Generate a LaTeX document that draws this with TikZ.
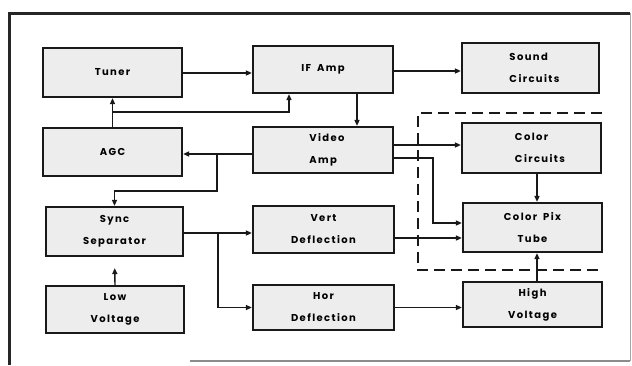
\documentclass[tikz,border=0pt]{standalone}
\usepackage{fontspec}
\newfontfamily\lblfont[LetterSpace=14]{Poppins}
\usetikzlibrary{arrows.meta}
\begin{document}
\begin{tikzpicture}[x=1pt,y=-1pt,
  blk/.style={draw=black!90, line width=2.2pt, fill=black!7, inner sep=0pt,
    align=center, font=\lblfont\bfseries\fontsize{10}{22}\selectfont},
  lft/.style={align=left},
  arr/.style={line width=1.4pt, draw=black!90, -{Triangle[length=6pt,width=5pt]}},
  dsh/.style={line width=1.6pt, draw=black!90, dash pattern=on 11pt off 6pt}]
\useasboundingbox (0,0) rectangle (632,365);
% frame
\draw[line width=3pt, black!85] (9,365) -- (9,13) -- (630,13);
\draw[line width=0.8pt, black!35] (630,13) -- (630,361);
\draw[line width=1.2pt, black!45] (190,361) -- (630,361);
% boxes
\node[blk, minimum width=139, minimum height=49] (tuner) at (112.5,72.5) {Tuner};
\node[blk, minimum width=140, minimum height=47] (if) at (323,69.5) {IF\hspace{0.6em}Amp};
\node[blk, minimum width=137, minimum height=50] (sound) at (530.5,68) {};
\node[blk, lft, draw=none, fill=none, anchor=center] (soundtxt) at (534.5,68) {Sound\\Circuits};
\node[blk, minimum width=139, minimum height=48] (agc) at (112.5,152) {AGC};
\node[blk, minimum width=140, minimum height=46] (video) at (323,150) {};
\node[blk, lft, draw=none, fill=none] (videotxt) at (327,150) {Video\\Amp};
\node[blk, minimum width=139, minimum height=50] (cc) at (531.5,148) {};
\node[blk, lft, draw=none, fill=none] (cctxt) at (540,148) {Color\\Circuits};
\node[blk, minimum width=137, minimum height=49] (sync) at (114.5,231.5) {Sync\\Separator};
\node[blk, minimum width=138, minimum height=47] (low) at (115,309.5) {Low\\Voltage};
\node[blk, minimum width=141, minimum height=47] (vert) at (323.5,229.5) {Vert\\Deflection};
\node[blk, minimum width=141, minimum height=45] (hor) at (323.5,307.5) {Hor\\Deflection};
\node[blk, minimum width=139, minimum height=49] (pix) at (532.5,227.5) {Color\hspace{0.6em}Pix\\Tube};
\node[blk, minimum width=139, minimum height=45] (high) at (532.5,304.5) {High\\Voltage};
% dashed enclosure
\draw[dsh] (602,113) -- (418,113) -- (418,270) -- (602,270);
% connectors
\coordinate (j1) at (113,112);
\coordinate (j2) at (217,154);
\coordinate (j3) at (217,191);
\coordinate (j4) at (218,233);
\coordinate (k) at (433,223);
\draw[arr] ([yshift=-0.5pt]tuner.east) -- ([yshift=-0.5pt]tuner.east -| if.west);
\draw[arr] (agc.north) -- (tuner.south);
\draw[arr] (j1) -| ([xshift=-34pt]if.south);
\draw[arr] ([yshift=-4pt]video.west) -- ([yshift=-4pt]video.west -| agc.east);
\draw[arr] (j2) -- (j3) -| (sync.north);
\draw[arr] ([yshift=-1.5pt]if.east) -- ([yshift=-1.5pt]if.east -| sound.west);
\draw[arr] ([xshift=34pt]if.south) -- ([xshift=34pt]if.south |- video.north);
\draw[arr] ([yshift=5pt]video.east) -- ([yshift=5pt]video.east -| cc.west);
\draw[arr] ([yshift=-8pt]video.east) -| (k) -- (k -| pix.west);
\draw[arr] ([xshift=5.5pt]cc.south) -- ([xshift=5.5pt]cc.south |- pix.north);
\draw[arr] ([yshift=-1.5pt]sync.east) -- ([yshift=-1.5pt]sync.east -| vert.west);
\draw[arr] (j4) |- (hor.west);
\draw[arr] ([yshift=-8.5pt]vert.east) -- ([yshift=-8.5pt]vert.east -| pix.west);
\draw[arr] (hor.east) -- (hor.east -| high.west);
\draw[arr] ([xshift=4.5pt]high.north) -- ([xshift=4.5pt]high.north |- pix.south);
\draw[arr, shorten >=11pt] (low.north) -- (sync.south);
\end{tikzpicture}
\end{document}
